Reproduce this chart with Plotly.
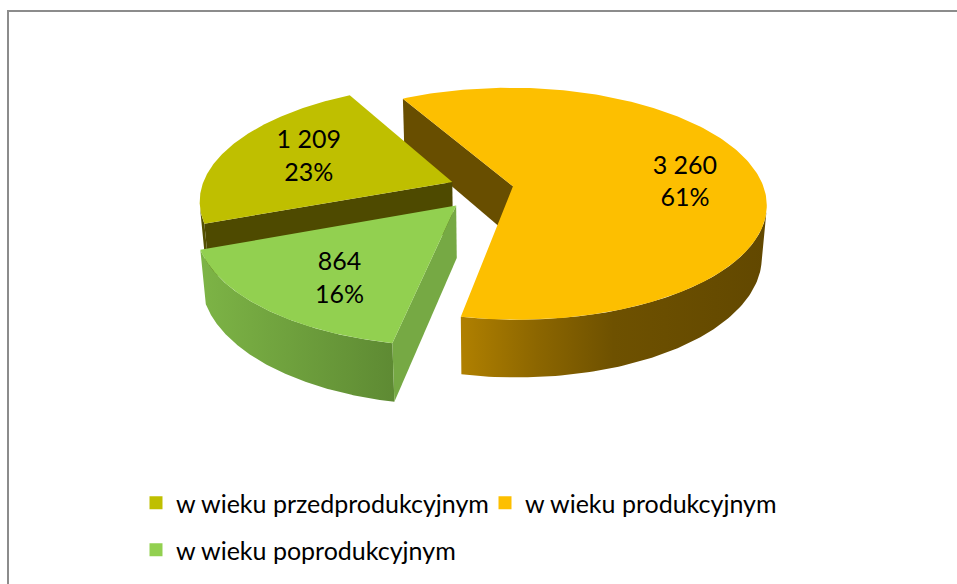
import numpy as np
import plotly.graph_objects as go

# ---------------- data ----------------
categories = ["w wieku przedprodukcyjnym", "w wieku produkcyjnym", "w wieku poprodukcyjnym"]
values = [1209, 3260, 864]

# ---------------- style ----------------
top_colors = ["#BFBF00", "#FDBF00", "#92D050"]
face_colors = ["#4E4A00", "#684E00", "#76A944"]
side_scales = [
    [[0, "#5A5600"], [1, "#4A4600"]],
    [[0, "#B08000"], [0.25, "#8C6600"], [0.5, "#6E5100"], [1, "#624800"]],
    [[0, "#7DB446"], [1, "#5E8A33"]],
]
explode = [0.155, 0.099, 0.195]
label_r = [0.64, 0.69, 0.70]
label_dtheta = [0.0, 7.0, -5.0]
FONT = "Lato"

# 3D projection settings (Excel-like 3D pie)
START_DEG = 249.4
DEPTH = 0.235
PHI = np.radians(27.0)
DIST = 5.93
FOCAL = 1488.0
CX, CY = 488.5, 188.1
W, H = 957, 584
SPHI, CPHI = np.sin(PHI), np.cos(PHI)


def project(X, Y, Z):
    X = np.asarray(X, float)
    Y = np.asarray(Y, float)
    Z = np.asarray(Z, float)
    w = DIST + Y * CPHI - Z * SPHI
    sx = CX + FOCAL * X / w
    sy = CY - FOCAL * (Y * SPHI + Z * CPHI) / w
    return sx, sy


total = float(sum(values))
fracs = [v / total for v in values]
cam = np.array([0.0, -DIST * CPHI, DIST * SPHI])

parts = {}
label_pos = []
cum = 0.0
for i, f in enumerate(fracs):
    a = START_DEG + 360 * cum
    b = a + 360 * f
    cum += f
    mid = np.radians((a + b) / 2)
    ex, ey = explode[i] * np.sin(mid), explode[i] * np.cos(mid)
    th = np.radians(np.linspace(a, b, 200))
    rx, ry = ex + np.sin(th), ey + np.cos(th)

    # top surface
    X = np.concatenate([[ex], rx, [ex]])
    Y = np.concatenate([[ey], ry, [ey]])
    parts[("top", i)] = project(X, Y, np.zeros_like(X))

    # outer side (visible part only)
    vis = (-ex * np.sin(th) - ey * np.cos(th) - 1 - DIST * CPHI * np.cos(th)) > 0
    idx = np.where(vis)[0]
    if len(idx) > 1:
        sx_, sy_ = rx[idx], ry[idx]
        X = np.concatenate([sx_, sx_[::-1], [sx_[0]]])
        Y = np.concatenate([sy_, sy_[::-1], [sy_[0]]])
        Z = np.concatenate([np.zeros(len(idx)), -DEPTH * np.ones(len(idx)), [0]])
        parts[("side", i)] = project(X, Y, Z)

    # radial cut faces
    P = np.array([ex, ey, 0.0])
    for ang, sgn in ((a, -1), (b, 1)):
        t = np.radians(ang)
        n = np.array([sgn * np.cos(t), -sgn * np.sin(t), 0.0])
        if np.dot(cam - P, n) > 0:
            px, py = ex + np.sin(t), ey + np.cos(t)
            X = [ex, px, px, ex, ex]
            Y = [ey, py, py, ey, ey]
            Z = [0, 0, -DEPTH, -DEPTH, 0]
            parts[("face", i)] = project(X, Y, Z)

    lt = np.radians((a + b) / 2 + label_dtheta[i])
    lx = ex + label_r[i] * np.sin(lt)
    ly = ey + label_r[i] * np.cos(lt)
    label_pos.append(project([lx], [ly], [0]))

fig = go.Figure()

order = [("face", 1), ("side", 0), ("face", 0), ("side", 2), ("face", 2),
         ("side", 1), ("top", 0), ("top", 2), ("top", 1)]
for kind, i in order:
    if (kind, i) not in parts:
        continue
    sx, sy = parts[(kind, i)]
    tr = dict(x=sx, y=sy, mode="lines", fill="toself", line=dict(width=0),
              hoverinfo="skip", showlegend=False)
    if kind == "top":
        tr["fillcolor"] = top_colors[i]
    elif kind == "face":
        tr["fillcolor"] = face_colors[i]
    else:
        tr["fillcolor"] = side_scales[i][0][1]
        tr["fillgradient"] = dict(type="horizontal", colorscale=side_scales[i])
    fig.add_trace(go.Scatter(**tr))

# data labels
for i, v in enumerate(values):
    txt = f"{v:,}".replace(",", " ") + "<br>" + f"{round(100 * v / total)}%"
    fig.add_trace(go.Scatter(
        x=label_pos[i][0], y=label_pos[i][1], mode="text", text=[txt],
        textposition="middle center", textfont=dict(family=FONT, size=25, color="#000000"),
        hoverinfo="skip", showlegend=False))

# legend entries
legend_names = ["legend", "legend2", "legend3"]
for i, name in enumerate(categories):
    fig.add_trace(go.Scatter(
        x=[None], y=[None], mode="markers", name=name,
        marker=dict(symbol="square", size=13, color=top_colors[i]),
        legend=legend_names[i], showlegend=True))

leg_common = dict(orientation="h", xanchor="left", yanchor="middle",
                  bgcolor="rgba(0,0,0,0)", borderwidth=0,
                  font=dict(family=FONT, size=25, color="#000000"))
leg_pos = [(136, 503), (485, 503), (136, 550)]

layout_legends = {}
for name, (px, py) in zip(legend_names, leg_pos):
    layout_legends[name] = dict(x=px / W, y=1 - py / H, **leg_common)

fig.update_layout(
    width=W, height=H, autosize=False,
    margin=dict(l=0, r=0, t=0, b=0),
    paper_bgcolor="white", plot_bgcolor="white",
    xaxis=dict(range=[0, W], visible=False, fixedrange=True),
    yaxis=dict(range=[H, 0], visible=False, fixedrange=True),
    shapes=[dict(type="rect", xref="x", yref="y", x0=8, y0=11, x1=W + 20, y1=H + 20,
                 line=dict(color="#8C8C8C", width=2), fillcolor="rgba(0,0,0,0)", layer="below")],
    **layout_legends,
)

fig.write_html(
    "out.html",
    config={"displayModeBar": False},
    post_script="document.body.style.margin='0';document.body.style.overflow='hidden';",
)
